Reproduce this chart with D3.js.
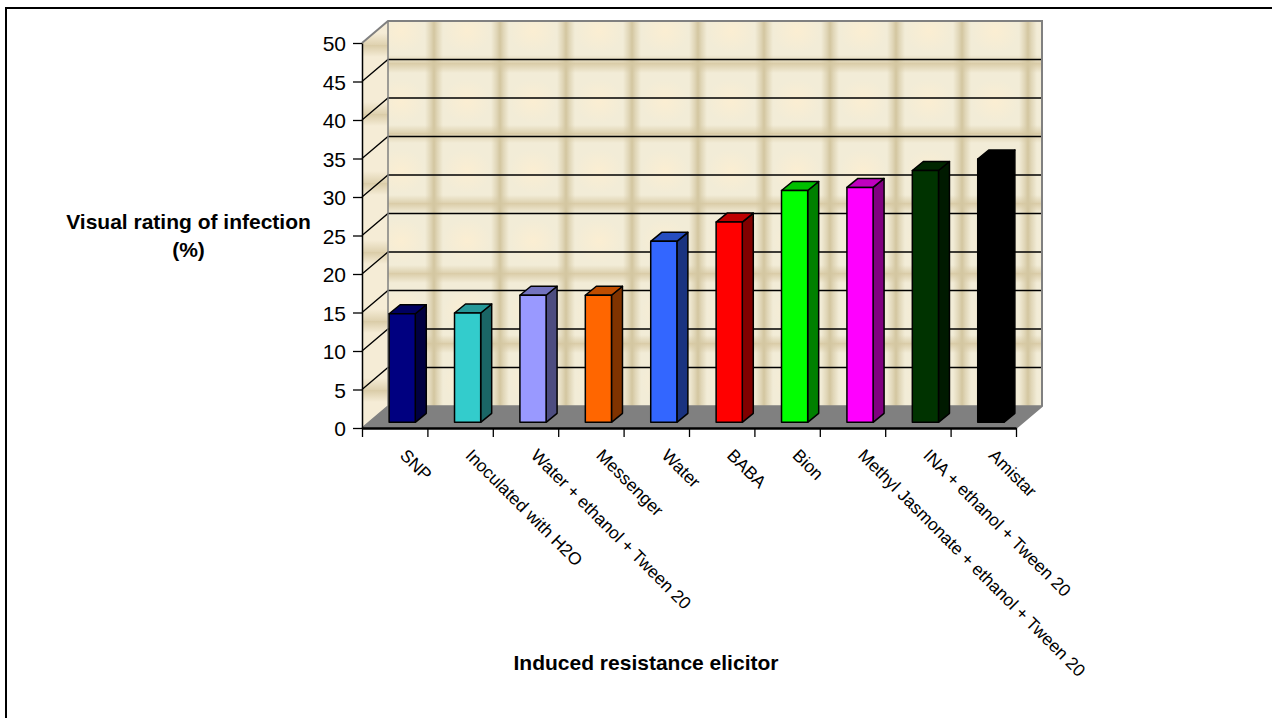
<!DOCTYPE html>
<html>
<head>
<meta charset="utf-8">
<script src="https://cdn.jsdelivr.net/npm/d3@7"></script>
<style>
  html, body { margin: 0; padding: 0; background: #fff; }
  svg { display: block; }
  text { font-family: "Liberation Sans", Arial, sans-serif; fill: #000; }
</style>
</head>
<body>
<div id="chart"></div>
<script>
const categories = ['SNP', 'Inoculated with H2O', 'Water + ethanol + Tween 20', 'Messenger', 'Water', 'BABA', 'Bion',
  'Methyl Jasmonate + ethanol + Tween 20', 'INA + ethanol + Tween 20', 'Amistar'];
const values = [14.1, 14.2, 16.5, 16.5, 23.5, 26, 30.1, 30.5, 32.7, 34.2];
const barColors = ['#000080', '#33cccc', '#9999ff', '#ff6600', '#3366ff', '#ff0000', '#00ff00', '#ff00ff', '#003300', '#000000'];
const yTicks = [0, 5, 10, 15, 20, 25, 30, 35, 40, 45, 50];

const width = 1272, height = 718;
const plotLeft = 362, plotRight = 1016, plotTop = 43, plotBottom = 428;
const wallDx = 26, wallDy = -22;  // depth of the walls
const barDx = 11, barDy = -9;     // depth of a bar
const barInX = 7.5, barInY = -5.7;    // bars stand a bit inside the floor

const svg = d3.select('#chart').append('svg').attr('width', width).attr('height', height);

const x = d3.scaleBand().domain(categories).range([plotLeft, plotRight]).paddingInner(0.6).paddingOuter(0.3);
const xEdge = d3.scaleLinear().domain([0, categories.length]).range([plotLeft, plotRight]);
const y = d3.scaleLinear().domain([0, 50]).range([plotBottom, plotTop]);

// wall texture
const defs = svg.append('defs');
function gradient(id, x2, y2, stops) {
  const g = defs.append('linearGradient').attr('id', id).attr('x1', 0).attr('y1', 0).attr('x2', x2).attr('y2', y2);
  stops.forEach(s => g.append('stop').attr('offset', s[0]).attr('stop-color', s[1]).attr('stop-opacity', s[2]));
}
gradient('vStrip', 1, 0, [[0, '#d3c6a0', 1], [0.4, '#d3c6a0', 0.55], [1, '#d3c6a0', 0]]);
gradient('vStrip2', 1, 0, [[0, '#d3c6a0', 0], [0.6, '#d3c6a0', 0.55], [1, '#d3c6a0', 1]]);
gradient('hStrip', 0, 1, [[0, '#d9cba6', 1], [1, '#d9cba6', 0]]);
gradient('hStrip2', 0, 1, [[0, '#d9cba6', 0], [1, '#d9cba6', 0.8]]);
const warm = defs.append('radialGradient').attr('id', 'warm');
warm.append('stop').attr('offset', 0).attr('stop-color', '#fbeed2').attr('stop-opacity', 1);
warm.append('stop').attr('offset', 1).attr('stop-color', '#fbeed2').attr('stop-opacity', 0);

const tile = defs.append('pattern').attr('id', 'tile').attr('patternUnits', 'userSpaceOnUse')
  .attr('x', 368).attr('y', 63).attr('width', 66).attr('height', 70);
tile.append('rect').attr('width', 66).attr('height', 70).attr('fill', '#f2ecd7');
tile.append('ellipse').attr('cx', 33).attr('cy', 38).attr('rx', 24).attr('ry', 22).attr('fill', 'url(#warm)');
tile.append('rect').attr('width', 66).attr('height', 10).attr('fill', 'url(#hStrip)');
tile.append('rect').attr('y', 62).attr('width', 66).attr('height', 8).attr('fill', 'url(#hStrip2)');
tile.append('rect').attr('width', 9).attr('height', 70).attr('fill', 'url(#vStrip)');
tile.append('rect').attr('x', 57).attr('width', 9).attr('height', 70).attr('fill', 'url(#vStrip2)');

const sideTile = defs.append('pattern').attr('id', 'sideTile').attr('patternUnits', 'userSpaceOnUse')
  .attr('x', 0).attr('y', 45).attr('width', 26).attr('height', 69);
sideTile.append('rect').attr('width', 26).attr('height', 69).attr('fill', '#f5ecd6');
sideTile.append('rect').attr('width', 26).attr('height', 12).attr('fill', 'url(#hStrip)');
sideTile.append('rect').attr('y', 57).attr('width', 26).attr('height', 12).attr('fill', 'url(#hStrip2)');

// outer frame
svg.append('path').attr('d', `M6 ${height}V8H${width}`).attr('fill', 'none').attr('stroke', '#000').attr('stroke-width', 2);

// walls and floor
svg.append('rect').attr('x', plotLeft + wallDx).attr('y', plotTop + wallDy)
  .attr('width', plotRight - plotLeft).attr('height', plotBottom - plotTop)
  .attr('fill', 'url(#tile)');
svg.append('path').attr('d', `M${plotLeft} ${plotTop}L${plotLeft + wallDx} ${plotTop + wallDy}V${plotBottom + wallDy}L${plotLeft} ${plotBottom}Z`)
  .attr('fill', 'url(#sideTile)');
svg.append('path')
  .attr('d', `M${plotLeft} ${plotBottom}L${plotLeft + wallDx} ${plotBottom + wallDy}H${plotRight + wallDx}L${plotRight} ${plotBottom}Z`)
  .attr('fill', '#808080');

// grid lines on both walls
const gridTicks = yTicks.filter(d => d > 0 && d < 50);
svg.append('g').selectAll('path').data(gridTicks).join('path')
  .attr('d', d => `M${plotLeft} ${y(d)}L${plotLeft + wallDx} ${y(d) + wallDy}H${plotRight + wallDx}`)
  .attr('fill', 'none').attr('stroke', '#000').attr('stroke-width', 1.3);

// wall outline
svg.append('path')
  .attr('d', `M${plotLeft} ${plotTop}L${plotLeft + wallDx} ${plotTop + wallDy}H${plotRight + wallDx}V${plotBottom + wallDy}L${plotRight} ${plotBottom}`)
  .attr('fill', 'none').attr('stroke', '#808080').attr('stroke-width', 2);
svg.append('path')
  .attr('d', `M${plotLeft + wallDx} ${plotTop + wallDy}V${plotBottom + wallDy}L${plotLeft} ${plotBottom}M${plotLeft + wallDx} ${plotBottom + wallDy}H${plotRight + wallDx}`)
  .attr('fill', 'none').attr('stroke', '#808080').attr('stroke-width', 1.5);

// bars
const shade = (c, k) => { const r = d3.rgb(c); return d3.rgb(r.r * k, r.g * k, r.b * k).formatHex(); };
const bars = svg.append('g').attr('stroke', '#000').attr('stroke-width', 1.5).attr('stroke-linejoin', 'round')
  .selectAll('g').data(categories).join('g');
const bx = d => x(d) + barInX;
const by = (d, i) => y(values[i]) + barInY;
const bw = x.bandwidth();
bars.append('path')
  .attr('d', (d, i) => `M${bx(d) + bw} ${by(d, i)}l${barDx} ${barDy}V${plotBottom + barInY + barDy}l${-barDx} ${-barDy}Z`)
  .attr('fill', (d, i) => shade(barColors[i], 0.5));
bars.append('path')
  .attr('d', (d, i) => `M${bx(d)} ${by(d, i)}l${barDx} ${barDy}h${bw}l${-barDx} ${-barDy}Z`)
  .attr('fill', (d, i) => shade(barColors[i], 0.75));
bars.append('rect')
  .attr('x', bx).attr('y', by).attr('width', bw)
  .attr('height', (d, i) => plotBottom - y(values[i]))
  .attr('fill', (d, i) => barColors[i]);

// axes
const yAxis = svg.append('g').attr('transform', `translate(${plotLeft},0)`)
  .call(d3.axisLeft(y).tickValues(yTicks).tickSize(9).tickPadding(7).tickSizeOuter(0));
const xAxis = svg.append('g').attr('transform', `translate(0,${plotBottom})`)
  .call(d3.axisBottom(xEdge).tickValues(d3.range(categories.length + 1)).tickSize(9).tickSizeOuter(0).tickFormat(''));
yAxis.selectAll('.domain').attr('stroke-width', 1.5);
xAxis.selectAll('.domain').attr('stroke-width', 2.5);
yAxis.selectAll('.tick line').attr('stroke-width', 1.3);
xAxis.selectAll('.tick line').attr('stroke-width', 1.3);
yAxis.selectAll('text').attr('font-size', 21).attr('dy', '0.36em').style('font-family', '"Liberation Sans", Arial, sans-serif');

// category labels
svg.append('g').selectAll('text').data(categories).join('text')
  .attr('transform', d => `translate(${x(d) + 17.5},456.5) rotate(45)`)
  .attr('font-size', 17.4)
  .text(d => d);

// axis titles
const yTitle = svg.append('text').attr('text-anchor', 'middle').attr('font-weight', 'bold').attr('font-size', 21);
yTitle.append('tspan').attr('x', 188.5).attr('y', 228.5).text('Visual rating of infection');
yTitle.append('tspan').attr('x', 188.5).attr('y', 257).text('(%)');
svg.append('text').attr('x', 646).attr('y', 670).attr('text-anchor', 'middle')
  .attr('font-weight', 'bold').attr('font-size', 21).text('Induced resistance elicitor');
</script>
</body>
</html>
